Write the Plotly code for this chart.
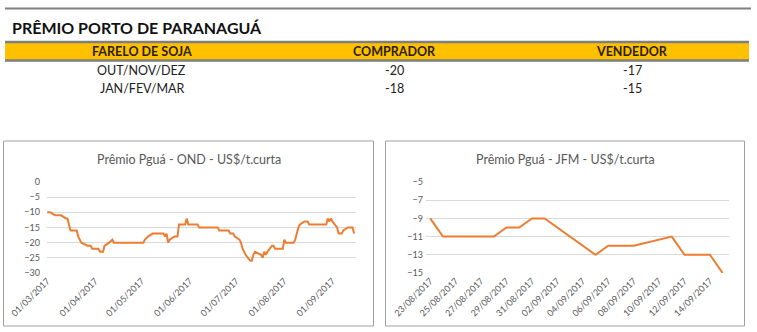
import plotly.graph_objects as go

W, H = 757, 332

# Summary table
table_title = "PRÊMIO PORTO DE PARANAGUÁ"
table_header = ["FARELO DE SOJA", "COMPRADOR", "VENDEDOR"]
table_rows = ["OUT/NOV/DEZ", "JAN/FEV/MAR"]
comprador = [-20, -18]
vendedor = [-17, -15]

# Premium history, OUT/NOV/DEZ contract (US$/short ton)
ond_dates = [
    "2017-03-01", "2017-03-03", "2017-03-06", "2017-03-10", "2017-03-13", "2017-03-14",
    "2017-03-15", "2017-03-16", "2017-03-20", "2017-03-21", "2017-03-23", "2017-03-27",
    "2017-03-29", "2017-03-30", "2017-04-03", "2017-04-04", "2017-04-06", "2017-04-07",
    "2017-04-10", "2017-04-12", "2017-04-13", "2017-05-02", "2017-05-03", "2017-05-05",
    "2017-05-08", "2017-05-15", "2017-05-16", "2017-05-17", "2017-05-18", "2017-05-19",
    "2017-05-22", "2017-05-24", "2017-05-25", "2017-05-29", "2017-05-30", "2017-05-31",
    "2017-06-06", "2017-06-07", "2017-06-19", "2017-06-20", "2017-06-26", "2017-06-27",
    "2017-06-29", "2017-06-30", "2017-07-03", "2017-07-04", "2017-07-05", "2017-07-06",
    "2017-07-07", "2017-07-10", "2017-07-11", "2017-07-12", "2017-07-13", "2017-07-17",
    "2017-07-18", "2017-07-19", "2017-07-20", "2017-07-21", "2017-07-24", "2017-07-25",
    "2017-07-26", "2017-07-31", "2017-08-01", "2017-08-02", "2017-08-07", "2017-08-08",
    "2017-08-10", "2017-08-11", "2017-08-14", "2017-08-16", "2017-08-17", "2017-08-28",
    "2017-08-29", "2017-08-30", "2017-08-31", "2017-09-01", "2017-09-04", "2017-09-05",
    "2017-09-07", "2017-09-08", "2017-09-11", "2017-09-14", "2017-09-15",
]
ond_values = [
    -10, -10, -11, -11, -12, -12,
    -14, -16, -16, -18, -20, -21,
    -21, -22, -22, -23, -23, -21,
    -20, -19, -20, -20, -19, -18,
    -17, -17, -18, -17, -20, -19,
    -18, -18, -14, -14, -12, -14,
    -14, -15, -15, -16, -16, -17,
    -17, -18, -19, -20, -22, -23,
    -24, -26, -26, -24, -23, -24,
    -25, -23, -24, -23, -21, -21,
    -22, -22, -19, -20, -20, -19,
    -15, -14, -13, -13, -14, -14,
    -12, -13, -12, -13, -15, -17,
    -17, -16, -15, -15, -17,
]

# Premium history, JAN/FEV/MAR contract (US$/short ton)
jfm_dates = [
    "2017-08-23", "2017-08-24", "2017-08-25", "2017-08-28", "2017-08-29", "2017-08-30",
    "2017-08-31", "2017-09-01", "2017-09-05", "2017-09-06", "2017-09-08", "2017-09-11",
    "2017-09-12", "2017-09-13", "2017-09-14", "2017-09-15",
]
jfm_values = [-9, -11, -11, -11, -10, -10, -9, -9, -13, -12, -12, -11, -13, -13, -13, -15]

FONT = "Lato"
GREY_TXT = "#595959"
ORANGE_LINE = "#ED7D31"
GRID = "#d9d9d9"


def px(x):
    return x / W


def py(y):
    return 1 - y / H


fig = go.Figure()

fig.add_trace(go.Scatter(
    x=ond_dates, y=ond_values, mode="lines",
    line=dict(color=ORANGE_LINE, width=2), xaxis="x", yaxis="y",
    hoverinfo="x+y", showlegend=False,
))
fig.add_trace(go.Scatter(
    x=jfm_dates, y=jfm_values, mode="lines",
    line=dict(color=ORANGE_LINE, width=2), xaxis="x2", yaxis="y2",
    hoverinfo="x+y", showlegend=False,
))

tickfont = dict(family=FONT, size=9, color=GREY_TXT)

x_common = dict(
    type="date", tickformat="%d/%m/%Y", tickangle=-45, tickfont=tickfont,
    showgrid=False, zeroline=False, showline=False, ticks="", fixedrange=True,
    automargin=False,
)
y_common = dict(
    tickfont=tickfont, showgrid=True, gridcolor=GRID, gridwidth=1,
    zeroline=False, showline=False, ticks="", fixedrange=True,
    automargin=False,
)

fig.update_layout(
    width=W, height=H, autosize=False,
    margin=dict(l=0, r=0, t=0, b=0, pad=0),
    paper_bgcolor="white", plot_bgcolor="white",
    font=dict(family=FONT),
    xaxis=dict(
        x_common, domain=[px(47), px(356)], anchor="y",
        range=["2017-02-28 20:00", "2017-09-16 05:00"],
        tick0="2017-03-01", dtick="M1",
    ),
    yaxis=dict(
        y_common, domain=[py(273), py(182)], anchor="x",
        range=[-30, 0], tick0=0, dtick=5, ticklabelstandoff=6,
    ),
    xaxis2=dict(
        x_common, domain=[px(426), px(729)], anchor="y2",
        range=["2017-08-22 16:00", "2017-09-15 12:00"],
        tick0="2017-08-23", dtick=2 * 86400000,
    ),
    yaxis2=dict(
        y_common, domain=[py(273), py(182)], anchor="x2",
        range=[-15, -5], tick0=-5, dtick=2, ticklabelstandoff=2,
    ),
)

shapes = []
# table rules and header band
shapes.append(dict(type="line", xref="paper", yref="paper",
                   x0=px(5), x1=px(751), y0=py(8.5), y1=py(8.5),
                   line=dict(color="#808080", width=2)))
shapes.append(dict(type="rect", xref="paper", yref="paper",
                   x0=px(5), x1=px(749), y0=py(60), y1=py(42.5),
                   fillcolor="#FFC000", line=dict(width=0)))
for yy in (42, 60.5):
    shapes.append(dict(type="line", xref="paper", yref="paper",
                       x0=px(5), x1=px(749), y0=py(yy), y1=py(yy),
                       line=dict(color="#7f7f7f", width=2.5)))
# chart frames
for x0, x1 in ((3.5, 373.5), (385.5, 744.5)):
    shapes.append(dict(type="rect", xref="paper", yref="paper",
                       x0=px(x0), x1=px(x1), y0=py(326), y1=py(141),
                       line=dict(color="#a0a0a0", width=1), layer="below"))
fig.update_layout(shapes=shapes)

ann = []
ann.append(dict(text=f"<b>{table_title}</b>", x=px(10), y=py(27), xref="paper", yref="paper",
                xanchor="left", yanchor="middle", showarrow=False,
                font=dict(family=FONT, size=16, color="#111111")))
col_x = [141.5, 394, 632]
for cx, label in zip(col_x, table_header):
    ann.append(dict(text=f"<b>{label}</b>", x=px(cx), y=py(51.5), xref="paper", yref="paper",
                    xanchor="center", yanchor="middle", showarrow=False,
                    font=dict(family=FONT, size=12.5, color="#2a2000")))
row_y = [70.5, 88.5]
for ry, name, c, v in zip(row_y, table_rows, comprador, vendedor):
    for cx, txt in zip(col_x, (name, str(c), str(v))):
        ann.append(dict(text=txt, x=px(cx), y=py(ry), xref="paper", yref="paper",
                        xanchor="center", yanchor="middle", showarrow=False,
                        font=dict(family=FONT, size=12.5, color="#222222")))

ann.append(dict(text="Prêmio Pguá - OND - US$/t.curta", x=px(189), y=py(159),
                xref="paper", yref="paper", xanchor="center", yanchor="middle",
                showarrow=False, font=dict(family=FONT, size=12.5, color=GREY_TXT)))
ann.append(dict(text="Prêmio Pguá - JFM - US$/t.curta", x=px(565), y=py(159),
                xref="paper", yref="paper", xanchor="center", yanchor="middle",
                showarrow=False, font=dict(family=FONT, size=12.5, color=GREY_TXT)))
fig.update_layout(annotations=ann)

fig.write_html("out.html")
